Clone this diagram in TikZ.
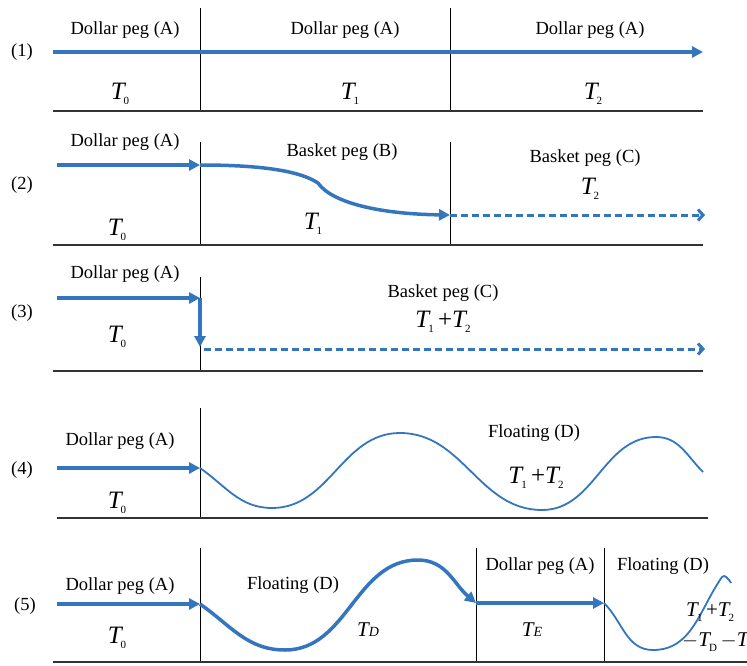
\documentclass[tikz,border=0pt]{standalone}
\usepackage{fontspec}
\setmainfont{Liberation Serif}
\usetikzlibrary{arrows.meta}
\definecolor{pegblue}{RGB}{52,118,190}
\newcommand{\Tn}[1]{{\itshape T}\kern-0.04em\raisebox{-0.45ex}{\fontsize{11}{11}\selectfont #1}}
\newcommand{\Tc}[1]{{\itshape T{\fontsize{14}{14}\selectfont #1}}}
\tikzset{
  lbl/.style={font=\fontsize{18.5}{20}\selectfont, inner sep=0pt},
  tlbl/.style={font=\fontsize{25}{26}\selectfont, inner sep=0pt},
  tclbl/.style={font=\fontsize{21}{22}\selectfont, inner sep=0pt},
  sepline/.style={black, line width=1pt},
  baseln/.style={black!80, line width=1.8pt},
  flow/.style={pegblue, line width=3.5pt, -{Triangle[length=11pt,width=11pt]}},
  dflow/.style={pegblue, line width=3pt, dash pattern=on 7pt off 4pt, -{Straight Barb[length=5pt,width=11pt]}},
  wave/.style={pegblue, line width=1.8pt},
  thickwave/.style={pegblue, line width=3.5pt},
}
\begin{document}
\begin{tikzpicture}[x=1pt,y=-1pt]
\clip (0,0) rectangle (747,666);
\fill[white] (0,0) rectangle (747,666);
% ---------- Row 1 ----------
\node[lbl] (r1) at (22,52) {(1)};
\coordinate (v1at) at (200,8);   \coordinate (v1ab) at (200,111);
\coordinate (v1bt) at (450,8);   \coordinate (v1bb) at (450,111);
\coordinate (b1s) at (53,111);   \coordinate (b1e) at (703,111);
\coordinate (a1s) at (53,52);    \coordinate (a1e) at (703,52);
\draw[sepline] (v1at) -- (v1ab);
\draw[sepline] (v1bt) -- (v1bb);
\draw[baseln] (b1s) -- (b1e);
\draw[flow] (a1s) -- (a1e);
\node[lbl] (l1a) at (125,30) {Dollar peg (A)};
\node[lbl] (l1b) at (345,30) {Dollar peg (A)};
\node[lbl] (l1c) at (590,30) {Dollar peg (A)};
\node[tlbl] (t1a) at (120,94) {\Tn{0}};
\node[tlbl] (t1b) at (350,94) {\Tn{1}};
\node[tlbl] (t1c) at (593,94) {\Tn{2}};
% ---------- Row 2 ----------
\node[lbl] (r2) at (22,185) {(2)};
\coordinate (v2at) at (200,142); \coordinate (v2ab) at (200,245);
\coordinate (v2bt) at (450,142); \coordinate (v2bb) at (450,245);
\coordinate (b2s) at (53,245);   \coordinate (b2e) at (703,245);
\coordinate (a2s) at (57,165);   \coordinate (a2e) at (200,165);
\coordinate (k2) at (318,183);   \coordinate (c2e) at (450,215);
\coordinate (d2e) at (705,215);
\draw[sepline] (v2at) -- (v2ab);
\draw[sepline] (v2bt) -- (v2bb);
\draw[baseln] (b2s) -- (b2e);
\draw[flow] (a2s) -- (a2e);
\draw[flow] (a2e) .. controls (262,165) and (300,171) .. (k2)
   .. controls (332,203) and (380,214) .. (c2e);
\draw[dflow] (c2e) -- (d2e);
\node[lbl] (l2a) at (125,142) {Dollar peg (A)};
\node[lbl] (l2b) at (342,152) {Basket peg (B)};
\node[lbl] (l2c) at (585,158) {Basket peg (C)};
\node[tlbl] (t2a) at (117,230) {\Tn{0}};
\node[tlbl] (t2b) at (313,224) {\Tn{1}};
\node[tlbl] (t2c) at (590,189) {\Tn{2}};
% ---------- Row 3 ----------
\node[lbl] (r3) at (22,313) {(3)};
\coordinate (v3t) at (200,277);  \coordinate (v3b) at (200,371);
\coordinate (b3s) at (53,371);   \coordinate (b3e) at (703,371);
\coordinate (a3s) at (57,298);   \coordinate (a3e) at (200,298);
\coordinate (a3d) at (200,347);
\coordinate (d3s) at (204,349);  \coordinate (d3e) at (705,349);
\draw[sepline] (v3t) -- (v3b);
\draw[baseln] (b3s) -- (b3e);
\draw[flow] (a3s) -- (a3e);
\draw[flow] (a3e) -- (a3d);
\draw[dflow] (d3s) -- (d3e);
\node[lbl] (l3a) at (125,274) {Dollar peg (A)};
\node[lbl] (l3b) at (443,293) {Basket peg (C)};
\node[tlbl] (t3a) at (117,337) {\Tn{0}};
\node[tlbl] (t3b) at (443,322) {\Tn{1}\,+\Tn{2}};
% ---------- Row 4 ----------
\node[lbl] (r4) at (22,470) {(4)};
\coordinate (v4t) at (200,408);  \coordinate (v4b) at (200,518);
\coordinate (b4s) at (57,518);   \coordinate (b4e) at (708,518);
\coordinate (a4s) at (57,468);   \coordinate (a4e) at (200,468);
\coordinate (w4a) at (272,508);  \coordinate (w4b) at (400,433);
\coordinate (w4c) at (542,510);  \coordinate (w4d) at (656,437);
\coordinate (w4e) at (703,472);
\draw[sepline] (v4t) -- (v4b);
\draw[baseln] (b4s) -- (b4e);
\draw[flow] (a4s) -- (a4e);
\draw[wave] (a4e) to[out=-35,in=180] (w4a) to[out=0,in=180] (w4b)
   to[out=0,in=180] (w4c) to[out=0,in=180] (w4d) to[out=0,in=135] (w4e);
\node[lbl] (l4a) at (120,441) {Dollar peg (A)};
\node[lbl] (l4b) at (534,433) {Floating (D)};
\node[tlbl] (t4a) at (117,503) {\Tn{0}};
\node[tlbl] (t4b) at (536,478) {\Tn{1}\,+\Tn{2}};
% ---------- Row 5 ----------
\node[lbl] (r5) at (25,606) {(5)};
\coordinate (v5at) at (200,548); \coordinate (v5ab) at (200,662);
\coordinate (v5bt) at (476,548); \coordinate (v5bb) at (476,662);
\coordinate (v5ct) at (604,548); \coordinate (v5cb) at (604,662);
\coordinate (b5s) at (53,662);   \coordinate (b5e) at (747,662);
\coordinate (a5s) at (57,604);   \coordinate (a5e) at (200,604);
\coordinate (w5a) at (285,650);  \coordinate (w5b) at (418,560);
\coordinate (w5c) at (476,603);
\coordinate (a5f) at (604,603);
\coordinate (w5d) at (653,650);  \coordinate (w5e) at (722,577);
\coordinate (w5f) at (731,583);
\draw[sepline] (v5at) -- (v5ab);
\draw[sepline] (v5bt) -- (v5bb);
\draw[sepline] (v5ct) -- (v5cb);
\draw[baseln] (b5s) -- (b5e);
\draw[flow] (a5s) -- (a5e);
\draw[thickwave, -{Triangle[length=11pt,width=11pt]}] (a5e) to[out=-35,in=180] (w5a) to[out=0,in=180] (w5b) to[out=0,in=140] (w5c);
\draw[flow] (w5c) -- (a5f);
\draw[wave] (a5f) to[out=-45,in=180] (w5d) to[out=0,in=-125] (w5e) to[out=55,in=120] (w5f);
\node[lbl] (l5a) at (120,586) {Dollar peg (A)};
\node[lbl] (l5b) at (293,585) {Floating (D)};
\node[lbl] (l5c) at (540,566) {Dollar peg (A)};
\node[lbl] (l5d) at (663,566) {Floating (D)};
\node[tlbl] (t5a) at (117,638) {\Tn{0}};
\node[tclbl] (t5b) at (368,630) {\Tc{D}};
\node[tclbl] (t5c) at (532,630) {\Tc{E}};
\node[tclbl, anchor=west] (t5d) at (686,612) {\Tn{1}\,+\Tn{2}};
\node[tclbl, anchor=west] (t5e) at (682,642) {$-$\Tn{D}\,$-$\Tn{E}};
\end{tikzpicture}
\end{document}
